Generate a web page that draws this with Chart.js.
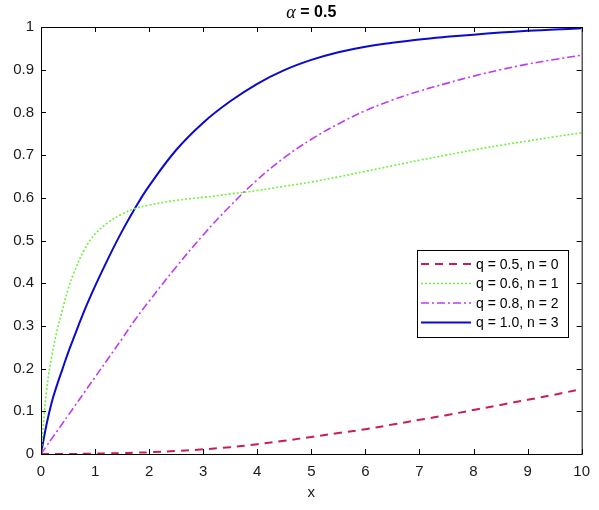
<!DOCTYPE html>
<html>
<head>
<meta charset="utf-8">
<script src="https://cdn.jsdelivr.net/npm/chart.js@4/dist/chart.umd.min.js"></script>
<style>
  html, body { margin: 0; padding: 0; background: #fff; }
  canvas { display: block; }
</style>
</head>
<body>
<canvas id="chart" width="599" height="510"></canvas>
<script>
// sample positions along x (denser near 0 where curves bend)
const xValues = [0, 0.1, 0.2, 0.3, 0.4, 0.5, 0.6, 0.8, 1.0, 1.25, 1.5, 1.75, 2, 2.5, 3, 3.5, 4, 4.5, 5, 5.5, 6, 6.5, 7, 7.5, 8, 8.5, 9, 9.5, 10];

// values
const seriesQ05 = [0, 0, 0, 0, 0, 0, 0, 0.0005, 0.001, 0.0015, 0.002, 0.003, 0.004, 0.007, 0.011, 0.016, 0.023, 0.031, 0.040, 0.049, 0.058, 0.069, 0.080, 0.091, 0.103, 0.115, 0.127, 0.139, 0.152];
const seriesQ06 = [0, 0.145, 0.23, 0.29, 0.34, 0.385, 0.422, 0.478, 0.515, 0.543, 0.562, 0.575, 0.583, 0.594, 0.601, 0.609, 0.617, 0.627, 0.637, 0.649, 0.662, 0.675, 0.688, 0.700, 0.712, 0.723, 0.733, 0.743, 0.752];
const seriesQ08 = [0, 0.018, 0.036, 0.054, 0.072, 0.09, 0.108, 0.144, 0.18, 0.225, 0.27, 0.316, 0.358, 0.438, 0.513, 0.581, 0.642, 0.694, 0.737, 0.773, 0.804, 0.829, 0.85, 0.868, 0.885, 0.90, 0.913, 0.924, 0.934];
const seriesQ10 = [0, 0.068, 0.122, 0.163, 0.20, 0.237, 0.27, 0.335, 0.393, 0.46, 0.522, 0.578, 0.628, 0.712, 0.776, 0.826, 0.867, 0.899, 0.923, 0.941, 0.954, 0.963, 0.971, 0.977, 0.982, 0.987, 0.991, 0.994, 0.997];

const seriesLabels = ["q = 0.5, n = 0", "q = 0.6, n = 1", "q = 0.8, n = 2", "q = 1.0, n = 3"];
const xTicks = [0, 1, 2, 3, 4, 5, 6, 7, 8, 9, 10];
const yTicks = [0, 0.1, 0.2, 0.3, 0.4, 0.5, 0.6, 0.7, 0.8, 0.9, 1];

const FONT = "'Liberation Sans', Arial, Helvetica, sans-serif";

const toPoints = (ys) => xValues.map((x, i) => ({ x: x, y: ys[i] }));

// MATLAB style box with inward ticks on all four sides
const boxPlugin = {
  id: "box",
  afterDraw(chart) {
    const { ctx, chartArea: a, scales } = chart;
    ctx.save();
    ctx.strokeStyle = "#000";
    ctx.lineWidth = 1;
    ctx.strokeRect(a.left + 0.5, a.top + 0.5, a.right - a.left, a.bottom - a.top);
    ctx.beginPath();
    xTicks.forEach((v) => {
      const px = Math.round(scales.x.getPixelForValue(v)) + 0.5;
      ctx.moveTo(px, a.bottom); ctx.lineTo(px, a.bottom - 5);
      ctx.moveTo(px, a.top); ctx.lineTo(px, a.top + 5);
    });
    yTicks.forEach((v) => {
      const py = Math.round(scales.y.getPixelForValue(v)) + 0.5;
      ctx.moveTo(a.left, py); ctx.lineTo(a.left + 5, py);
      ctx.moveTo(a.right, py); ctx.lineTo(a.right - 5, py);
    });
    ctx.stroke();
    ctx.restore();
  },
};

// title with an italic alpha, like the original
const titlePlugin = {
  id: "alphaTitle",
  afterDraw(chart) {
    const { ctx, chartArea: a } = chart;
    const cx = (a.left + a.right) / 2;
    const alpha = "\u03b1";
    const rest = " = 0.5";
    const alphaFont = "italic 18px 'Liberation Serif', 'Times New Roman', serif";
    const restFont = "bold 16px " + FONT;
    ctx.save();
    ctx.fillStyle = "#000";
    ctx.textBaseline = "middle";
    ctx.textAlign = "left";
    ctx.font = restFont;
    const wRest = ctx.measureText(rest).width;
    ctx.font = alphaFont;
    const wAlpha = ctx.measureText(alpha).width;
    const start = cx - (wAlpha + wRest) / 2;
    ctx.fillText(alpha, start, 13);
    ctx.font = restFont;
    ctx.fillText(rest, start + wAlpha, 13);
    ctx.restore();
  },
};

// legend box inside the plot area
const legendPlugin = {
  id: "innerLegend",
  afterDraw(chart) {
    const { ctx } = chart;
    const bx = 417, by = 250, bw = 151, bh = 87;
    ctx.save();
    ctx.fillStyle = "#fff";
    ctx.fillRect(bx, by, bw, bh);
    ctx.strokeStyle = "#000";
    ctx.lineWidth = 1;
    ctx.strokeRect(bx + 0.5, by + 0.5, bw, bh);
    chart.data.datasets.forEach((ds, i) => {
      const y = by + 14 + i * 19.5;
      ctx.beginPath();
      ctx.strokeStyle = ds.borderColor;
      ctx.lineWidth = ds.borderWidth;
      ctx.setLineDash(ds.borderDash || []);
      ctx.moveTo(bx + 4, y);
      ctx.lineTo(bx + 54, y);
      ctx.stroke();
      ctx.setLineDash([]);
      ctx.fillStyle = "#000";
      ctx.font = "14px " + FONT;
      ctx.textBaseline = "middle";
      ctx.fillText(ds.label, bx + 59, y + 1);
    });
    ctx.restore();
  },
};

new Chart(document.getElementById("chart"), {
  type: "line",
  data: {
    datasets: [
      {
        label: seriesLabels[0],
        data: toPoints(seriesQ05),
        borderColor: "#C81E55",
        borderWidth: 2,
        borderDash: [8, 6],
      },
      {
        label: seriesLabels[1],
        data: toPoints(seriesQ06),
        borderColor: "#6FF03C",
        borderWidth: 1.6,
        borderDash: [2, 2],
      },
      {
        label: seriesLabels[2],
        data: toPoints(seriesQ08),
        borderColor: "#BE3CF0",
        borderWidth: 1.6,
        borderDash: [8, 3, 2, 3],
      },
      {
        label: seriesLabels[3],
        data: toPoints(seriesQ10),
        borderColor: "#0A0ACD",
        borderWidth: 2,
      },
    ],
  },
  options: {
    responsive: false,
    animation: false,
    elements: {
      point: { radius: 0 },
      line: { tension: 0.4, fill: false },
    },
    layout: { padding: { top: 27, right: 15, left: 0, bottom: 0 } },
    plugins: {
      legend: { display: false },
      title: { display: false },
      tooltip: { enabled: false },
    },
    scales: {
      x: {
        type: "linear",
        min: 0,
        max: 10,
        afterFit: (scale) => { scale.height = 56; },
        afterBuildTicks: (scale) => { scale.ticks = xTicks.map((v) => ({ value: v })); },
        grid: { display: false, drawTicks: false },
        border: { display: false },
        ticks: {
          color: "#1a1a1a",
          padding: 9,
          font: { family: FONT, size: 15 },
        },
        title: {
          display: true,
          text: "x",
          color: "#1a1a1a",
          padding: { top: 0, bottom: 8 },
          font: { family: FONT, size: 15 },
        },
      },
      y: {
        type: "linear",
        min: 0,
        max: 1,
        afterFit: (scale) => { scale.width = 41; },
        afterBuildTicks: (scale) => { scale.ticks = yTicks.map((v) => ({ value: v })); },
        grid: { display: false, drawTicks: false },
        border: { display: false },
        ticks: {
          color: "#1a1a1a",
          padding: 7,
          font: { family: FONT, size: 15 },
          callback: (val) => String(Math.round(val * 10) / 10),
        },
      },
    },
  },
  plugins: [boxPlugin, titlePlugin, legendPlugin],
});
</script>
</body>
</html>
